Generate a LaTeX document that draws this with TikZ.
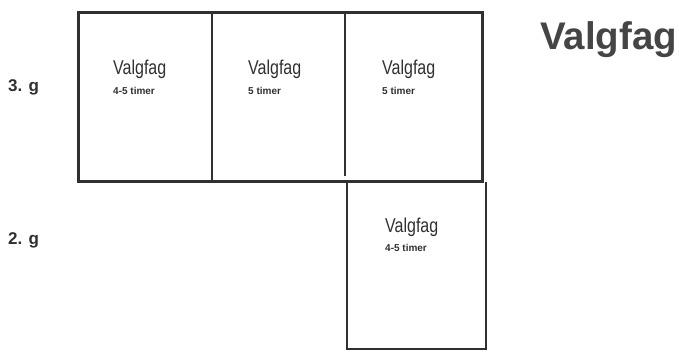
\documentclass[tikz,border=0pt]{standalone}
\usepackage{fontspec}
\setmainfont{Liberation Sans}
\newfontfamily\condfont[FakeStretch=0.8]{Liberation Sans}
\definecolor{ink}{HTML}{303030}
\definecolor{titlegray}{HTML}{454545}
\begin{document}
\begin{tikzpicture}[x=1pt,y=-1pt,
  thick frame/.style={draw=ink,line width=3pt},
  thin frame/.style={draw=ink,line width=1.2pt},
  lower frame/.style={draw=ink,line width=2.6pt},
  subject/.style={anchor=base west,inner sep=0pt,text=ink,font=\condfont\fontsize{20}{22}\selectfont},
  hours/.style={anchor=base west,inner sep=0pt,text=ink,font=\bfseries\fontsize{10}{12}\selectfont},
  grade/.style={anchor=base west,inner sep=0pt,text=ink,font=\bfseries\fontsize{17}{19}\selectfont},
  heading/.style={anchor=base west,inner sep=0pt,text=titlegray,font=\bfseries\fontsize{38.5}{42}\selectfont}]
\useasboundingbox (0,0) rectangle (679,352);
% lower box
\draw[lower frame] (347,182) -- (347,349) -- (486,349) -- (486,182);
% dividers
\draw[thin frame] (212,13) -- (212,182);
\draw[thin frame] (345,13) -- (345,176);
% outer box
\draw[thick frame] (78,13) rectangle (482,182);
% texts
\node[subject] (v1) at (113,75) {Valgfag};
\node[hours] (h1) at (113,95) {4-5 timer};
\node[subject] (v2) at (248,75) {Valgfag};
\node[hours] (h2) at (248,95) {5 timer};
\node[subject] (v3) at (382,75) {Valgfag};
\node[hours] (h3) at (382,95) {5 timer};
\node[subject] (v4) at (385,233) {Valgfag};
\node[hours] (h4) at (385,252) {4-5 timer};
\node[grade] (g3) at (8,92) {3. g};
\node[grade] (g2) at (8,245) {2. g};
\node[heading] (title) at (540,50) {Valgfag};
\end{tikzpicture}
\end{document}
